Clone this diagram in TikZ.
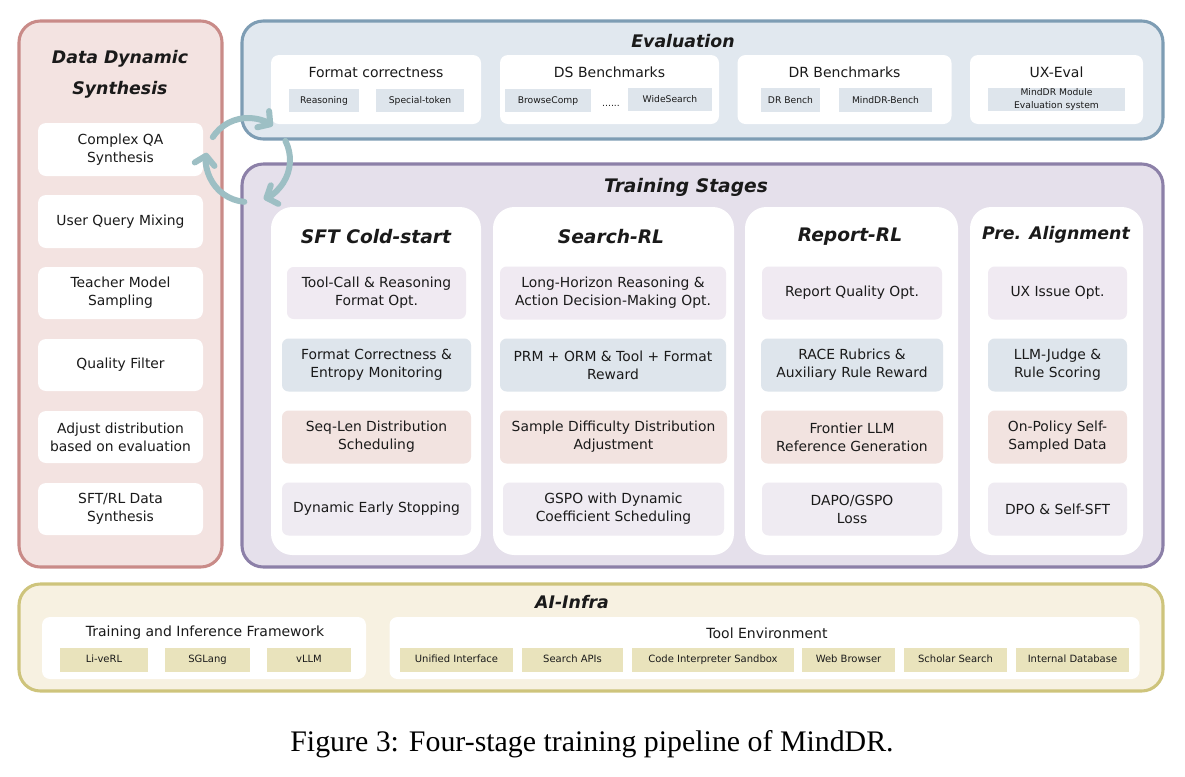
\documentclass[tikz,border=0pt]{standalone}
\usepackage{fontspec}
\setmainfont{DejaVu Sans}
\newfontfamily\capfont{Liberation Serif}
\usetikzlibrary{arrows.meta}
\definecolor{ddsfill}{HTML}{F3E3E1}
\definecolor{ddsdraw}{HTML}{C98B88}
\definecolor{evfill}{HTML}{E1E8EF}
\definecolor{evdraw}{HTML}{7E9DB4}
\definecolor{trfill}{HTML}{E5E0EB}
\definecolor{trdraw}{HTML}{8C80A8}
\definecolor{infill}{HTML}{F7F1E1}
\definecolor{indraw}{HTML}{CEC47C}
\definecolor{chipblue}{HTML}{DEE5EC}
\definecolor{rowa}{HTML}{F0EAF2}
\definecolor{rowb}{HTML}{DEE5EC}
\definecolor{rowc}{HTML}{F2E3E0}
\definecolor{rowd}{HTML}{EFEBF2}
\definecolor{chipy}{HTML}{E9E3BC}
\definecolor{cyc}{HTML}{9DBFC4}
\definecolor{txt}{HTML}{1A1A1A}
\def\u{0.75pt}
\tikzset{
  outer/.style={rounded corners=16pt, line width=2.3pt},
  ddsbox/.style={outer, fill=ddsfill, draw=ddsdraw},
  evbox/.style={outer, fill=evfill, draw=evdraw},
  trbox/.style={outer, fill=trfill, draw=trdraw},
  inbox/.style={outer, fill=infill, draw=indraw},
  whitebox/.style={fill=white, rounded corners=6pt, draw=none, align=center, text=txt,
     font=\fontsize{10.4}{13.5}\selectfont, inner sep=0pt},
  colbox/.style={fill=white, rounded corners=16pt, draw=none},
  rowbox/.style={rounded corners=5pt, draw=none, align=center, text=txt,
     font=\fontsize{10.4}{13.5}\selectfont, inner sep=0pt},
  chip/.style={draw=none, align=center, text=txt, inner sep=0pt,
     font=\fontsize{6.9}{9.75}\selectfont},
  bchip/.style={chip, fill=chipblue, text height=0.72em, text depth=0.2em},
  ichip/.style={chip, fill=chipy, font=\fontsize{7.5}{9}\selectfont, text height=0.72em, text depth=0.2em},
  title/.style={font=\fontsize{13}{23}\selectfont\bfseries\itshape, text=txt, align=center},
  ctitle/.style={title, font=\fontsize{14}{23}\selectfont\bfseries\itshape},
  subtitle/.style={font=\fontsize{10.5}{13.5}\selectfont, text=txt},
  cycarrow/.style={draw=cyc, line width=4.5pt, line cap=round,
     -{Straight Barb[length=6.5pt,width=15pt,line cap=round,line join=round]}},
}
\begin{document}
\begin{tikzpicture}[x=0.75pt,y=-0.75pt]
\useasboundingbox (0,0) rectangle (1185,776);

% ---------- outer panels ----------
\node[ddsbox, minimum width=203*\u, minimum height=546*\u] (dds) at (120.5,294) {};
\node[evbox, minimum width=921*\u, minimum height=118*\u] (ev) at (702.5,80) {};
\node[trbox, minimum width=921*\u, minimum height=403*\u] (tr) at (702.5,365.5) {};
\node[inbox, minimum width=1144*\u, minimum height=107*\u] (inf) at (591,637.5) {};

% ---------- Data Dynamic Synthesis ----------
\node[title] (ddst) at (120,74) {Data Dynamic\\Synthesis};
\node[whitebox, minimum width=165*\u, minimum height=53*\u] (qa) at (120.5,149.5) {Complex QA\\Synthesis};
\node[whitebox, minimum width=165*\u, minimum height=53*\u] (uq) at (120.5,221.5) {User Query Mixing};
\node[whitebox, minimum width=165*\u, minimum height=52*\u] (tm) at (120.5,293) {Teacher Model\\Sampling};
\node[whitebox, minimum width=165*\u, minimum height=52*\u] (qf) at (120.5,365) {Quality Filter};
\node[whitebox, minimum width=165*\u, minimum height=52*\u] (ad) at (120.5,437) {Adjust distribution\\based on evaluation};
\node[whitebox, minimum width=165*\u, minimum height=52*\u] (sr) at (120.5,509) {SFT/RL Data\\Synthesis};

% ---------- Evaluation ----------
\node[title] (evt) at (683,41) {Evaluation};
\node[whitebox, minimum width=210*\u, minimum height=69*\u] (fc) at (376,89.5) {};
\node[whitebox, minimum width=219*\u, minimum height=69*\u] (ds) at (609.5,89.5) {};
\node[whitebox, minimum width=214*\u, minimum height=69*\u] (dr) at (844.5,89.5) {};
\node[whitebox, minimum width=173*\u, minimum height=69*\u] (ux) at (1056.5,89.5) {};
\node[subtitle] (fct) at (376,72) {Format correctness};
\node[subtitle] (dst) at (609.5,72) {DS Benchmarks};
\node[subtitle] (drt) at (844.5,72) {DR Benchmarks};
\node[subtitle] (uxt) at (1056.5,72) {UX-Eval};
\node[bchip, minimum width=70*\u, minimum height=23*\u] (c1) at (324,100.5) {Reasoning};
\node[bchip, minimum width=88*\u, minimum height=23*\u] (c2) at (420,100.5) {Special-token};
\node[bchip, minimum width=86*\u, minimum height=23*\u] (c3) at (548,100.5) {BrowseComp};
\node[chip] (dots) at (611,106) {......};
\node[bchip, minimum width=84*\u, minimum height=23*\u] (c4) at (670,99.5) {WideSearch};
\node[bchip, minimum width=59*\u, minimum height=24*\u] (c5) at (790.5,100) {DR Bench};
\node[bchip, minimum width=93*\u, minimum height=24*\u] (c6) at (885.5,100) {MindDR-Bench};
\node[chip, fill=chipblue, minimum width=137*\u, minimum height=23*\u] (c7) at (1056.5,99) {MindDR Module\\Evaluation system};

% ---------- Training Stages ----------
\node[ctitle] (trt) at (686,187) {Training Stages};
\node[colbox, minimum width=210*\u, minimum height=348*\u] (k1) at (376,381) {};
\node[colbox, minimum width=241*\u, minimum height=348*\u] (k2) at (613.5,381) {};
\node[colbox, minimum width=213*\u, minimum height=348*\u] (k3) at (851.5,381) {};
\node[colbox, minimum width=173*\u, minimum height=348*\u] (k4) at (1056.5,381) {};
\node[ctitle] (k1t) at (376,237) {SFT Cold-start};
\node[ctitle] (k2t) at (611,237) {Search-RL};
\node[ctitle] (k3t) at (850,237) {Report-RL};
\node[title] (k4t) at (1056,235) {Pre. Alignment};

\node[rowbox, fill=rowa, minimum width=179*\u, minimum height=52*\u] (s1) at (376.5,293) {Tool-Call \& Reasoning\\Format Opt.};
\node[rowbox, fill=rowb, minimum width=189*\u, minimum height=53*\u] (s2) at (376.5,365) {Format Correctness \&\\Entropy Monitoring};
\node[rowbox, fill=rowc, minimum width=189*\u, minimum height=53*\u] (s3) at (376.5,437) {Seq-Len Distribution\\Scheduling};
\node[rowbox, fill=rowd, minimum width=189*\u, minimum height=53*\u] (s4) at (376.5,509) {Dynamic Early Stopping};

\node[rowbox, fill=rowa, minimum width=226*\u, minimum height=53*\u] (r1) at (613,293) {Long-Horizon Reasoning \&\\Action Decision-Making Opt.};
\node[rowbox, fill=rowb, minimum width=226*\u, minimum height=53*\u] (r2) at (613,365) {PRM + ORM \& Tool + Format\\Reward};
\node[rowbox, fill=rowc, minimum width=227*\u, minimum height=53*\u] (r3) at (613.5,437) {Sample Difficulty Distribution\\Adjustment};
\node[rowbox, fill=rowd, minimum width=221*\u, minimum height=53*\u] (r4) at (613.5,509) {GSPO with Dynamic\\Coefficient Scheduling};

\node[rowbox, fill=rowa, minimum width=180*\u, minimum height=53*\u] (p1) at (852,293) {Report Quality Opt.};
\node[rowbox, fill=rowb, minimum width=182*\u, minimum height=53*\u] (p2) at (852,365) {RACE Rubrics \&\\Auxiliary Rule Reward};
\node[rowbox, fill=rowc, minimum width=182*\u, minimum height=53*\u] (p3) at (852,437) {Frontier LLM\\Reference Generation};
\node[rowbox, fill=rowd, minimum width=180*\u, minimum height=53*\u] (p4) at (852,509) {DAPO/GSPO\\Loss};

\node[rowbox, fill=rowa, minimum width=139*\u, minimum height=53*\u] (a1) at (1057.5,293) {UX Issue Opt.};
\node[rowbox, fill=rowb, minimum width=139*\u, minimum height=53*\u] (a2) at (1057.5,365) {LLM-Judge \&\\Rule Scoring};
\node[rowbox, fill=rowc, minimum width=139*\u, minimum height=53*\u] (a3) at (1057.5,437) {On-Policy Self-\\Sampled Data};
\node[rowbox, fill=rowd, minimum width=139*\u, minimum height=53*\u] (a4) at (1057.5,509) {DPO \& Self-SFT};

% ---------- AI-Infra ----------
\node[title] (inft) at (572,602) {AI-Infra};
\node[whitebox, minimum width=324*\u, minimum height=62*\u] (fw) at (204,648) {};
\node[whitebox, minimum width=750*\u, minimum height=62*\u] (te) at (764.5,648) {};
\node[subtitle] (fwt) at (205,633) {Training and Inference Framework};
\node[subtitle] (tet) at (767,633) {Tool Environment};
\node[ichip, minimum width=88*\u, minimum height=24*\u] (f1) at (104,659.5) {Li-veRL};
\node[ichip, minimum width=85*\u, minimum height=24*\u] (f2) at (207.5,659.5) {SGLang};
\node[ichip, minimum width=84*\u, minimum height=24*\u] (f3) at (309,659.5) {vLLM};
\node[ichip, minimum width=113*\u, minimum height=24*\u] (t1) at (456.5,659.5) {Unified Interface};
\node[ichip, minimum width=101*\u, minimum height=24*\u] (t2) at (572.5,659.5) {Search APIs};
\node[ichip, minimum width=162*\u, minimum height=24*\u] (t3) at (713,659.5) {Code Interpreter Sandbox};
\node[ichip, minimum width=93*\u, minimum height=24*\u] (t4) at (848.5,659.5) {Web Browser};
\node[ichip, minimum width=103*\u, minimum height=24*\u] (t5) at (955.5,659.5) {Scholar Search};
\node[ichip, minimum width=113*\u, minimum height=24*\u] (t6) at (1072.5,659.5) {Internal Database};

% ---------- cycle arrows ----------
\coordinate (cc) at (248,160);
\draw[cycarrow] ([shift={(147:31.5pt)}]cc) arc[start angle=147, end angle=54, radius=31.5pt];
\draw[cycarrow] ([shift={(27:31.5pt)}]cc) arc[start angle=27, end angle=-68, radius=31.5pt];
\draw[cycarrow] ([shift={(-95:31.5pt)}]cc) arc[start angle=-95, end angle=-190, radius=31.5pt];

% ---------- caption ----------
\node[font=\capfont\fontsize{22.4}{26}\selectfont, text=black] (cap) at (592,744) {Figure 3: Four-stage training pipeline of MindDR.};
\end{tikzpicture}
\end{document}
